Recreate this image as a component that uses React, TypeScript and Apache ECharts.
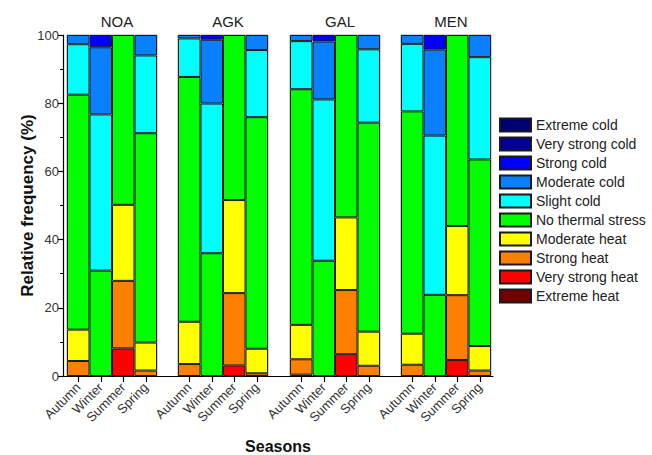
import React, { useEffect, useRef } from "react";
import * as echarts from "echarts";

const stations = ["NOA", "AGK", "GAL", "MEN"];
const seasons = ["Autumn", "Winter", "Summer", "Spring"];
const yTicks = [0, 20, 40, 60, 80, 100];

// values ordered: NOA(Autumn,Winter,Summer,Spring), AGK(...), GAL(...), MEN(...)
const extremeHeat = [0, 0, 0, 0, 0, 0, 0, 0, 0, 0, 0, 0, 0, 0, 0, 0];
const veryStrongHeat = [0, 0, 8.1, 0, 0, 0, 3.1, 0, 0.4, 0, 6.4, 0, 0, 0, 4.7, 0];
const strongHeat = [4.4, 0, 19.8, 1.6, 3.5, 0, 21.2, 0.8, 4.5, 0, 18.8, 3.0, 3.3, 0, 19.0, 1.6];
const moderateHeat = [9.2, 0, 22.3, 8.2, 12.4, 0, 27.3, 7.2, 10.1, 0, 21.3, 10.0, 9.1, 0, 20.3, 7.2];
const noThermalStress = [68.9, 30.9, 49.8, 61.4, 71.8, 36.0, 48.4, 67.9, 69.1, 33.8, 53.5, 61.3, 65.2, 23.8, 56.0, 54.7];
const slightCold = [14.8, 45.8, 0, 22.8, 11.3, 43.9, 0, 19.7, 14.1, 47.3, 0, 21.5, 19.8, 46.7, 0, 30.0];
const moderateCold = [2.7, 19.7, 0, 6.0, 1.0, 18.7, 0, 4.4, 1.8, 17.0, 0, 4.2, 2.6, 25.2, 0, 6.5];
const strongCold = [0, 3.6, 0, 0, 0, 1.4, 0, 0, 0, 1.9, 0, 0, 0, 4.3, 0, 0];
const veryStrongCold = [0, 0, 0, 0, 0, 0, 0, 0, 0, 0, 0, 0, 0, 0, 0, 0];
const extremeCold = [0, 0, 0, 0, 0, 0, 0, 0, 0, 0, 0, 0, 0, 0, 0, 0];

// stacking order bottom -> top
const classes = [
  { name: "Extreme heat", color: "#730000", values: extremeHeat },
  { name: "Very strong heat", color: "#ff0000", values: veryStrongHeat },
  { name: "Strong heat", color: "#ff8000", values: strongHeat },
  { name: "Moderate heat", color: "#ffff00", values: moderateHeat },
  { name: "No thermal stress", color: "#00ff00", values: noThermalStress },
  { name: "Slight cold", color: "#00ffff", values: slightCold },
  { name: "Moderate cold", color: "#0a80ff", values: moderateCold },
  { name: "Strong cold", color: "#0000ff", values: strongCold },
  { name: "Very strong cold", color: "#000099", values: veryStrongCold },
  { name: "Extreme cold", color: "#000070", values: extremeCold },
];

const FONT = 'Arial, "Liberation Sans", sans-serif';

export default function App() {
  const ref = useRef<HTMLDivElement>(null);
  useEffect(() => {
    if (!ref.current) return;
    const chart = echarts.init(ref.current, null, { renderer: "svg" });
    const panelLefts = [67, 178, 290, 401];
    const panelWidth = 90;
    const top = 35;
    const bottom = 79;

    const grids: any[] = [
      { left: 63, right: 159, top, bottom, show: false, outerBoundsMode: "none", containLabel: false },
      ...panelLefts.map((l) => ({
        left: l,
        width: panelWidth,
        top,
        bottom,
        show: true,
        borderColor: "#a0a0a0",
        borderWidth: 1,
        backgroundColor: "transparent",
        outerBoundsMode: "none",
        containLabel: false,
      })),
    ];

    const xAxes: any[] = [
      {
        gridIndex: 0,
        type: "value",
        min: 0,
        max: 1,
        z: 10,
        axisLine: { show: true, onZero: false, lineStyle: { color: "#000", width: 1.2 } },
        axisTick: { show: false },
        axisLabel: { show: false },
        splitLine: { show: false },
        name: "Seasons",
        nameLocation: "middle",
        nameGap: 62,
        nameMoveOverlap: false,
        nameTextStyle: { fontFamily: FONT, fontSize: 16, fontWeight: "bold", color: "#111" },
      },
      ...stations.map((_, i) => ({
        gridIndex: i + 1,
        type: "category",
        data: seasons,
        axisLine: { show: false },
        axisTick: { show: true, alignWithLabel: true, length: 6, lineStyle: { color: "#000", width: 1.2 } },
        axisLabel: { interval: 0, rotate: 45, fontFamily: FONT, fontSize: 13, color: "#333", margin: 9 },
        splitLine: { show: false },
      })),
    ];

    const yAxes: any[] = [
      {
        gridIndex: 0,
        type: "value",
        min: 0,
        max: 100,
        interval: 20,
        axisLine: { show: true, lineStyle: { color: "#000", width: 1.2 } },
        axisTick: { show: true, length: 5, lineStyle: { color: "#000", width: 1.2 } },
        minorTick: { show: true, splitNumber: 2, length: 3, lineStyle: { color: "#000", width: 1 } },
        axisLabel: {
          fontFamily: FONT,
          fontSize: 13,
          color: "#333",
          margin: 4,
          formatter: (v: number) => (yTicks.includes(v) ? String(v) : ""),
        },
        splitLine: { show: false },
        name: "Relative frequency (%)",
        nameLocation: "middle",
        nameGap: 27,
        nameMoveOverlap: false,
        nameTextStyle: { fontFamily: FONT, fontSize: 17, fontWeight: "bold", color: "#111" },
      },
      ...stations.map((_, i) => ({
        gridIndex: i + 1,
        type: "value",
        min: 0,
        max: 100,
        show: false,
        splitLine: { show: false },
      })),
    ];

    const series: any[] = [];
    stations.forEach((_, p) => {
      classes.forEach((c) => {
        series.push({
          type: "bar",
          name: c.name,
          xAxisIndex: p + 1,
          yAxisIndex: p + 1,
          stack: "s" + p,
          barCategoryGap: "0%",
          data: c.values.slice(p * 4, p * 4 + 4).map((v) => (v === 0 ? "-" : v)),
          itemStyle: { color: c.color, borderColor: "#1a1a1a", borderWidth: 1 },
          emphasis: { disabled: true },
        });
      });
    });

    const titles = stations.map((s, i) => ({
      text: s,
      left: panelLefts[i] + panelWidth / 2,
      top: 9,
      textAlign: "center",
      textStyle: { fontFamily: FONT, fontSize: 15, fontWeight: "normal", color: "#222" },
    }));

    chart.setOption({
      animation: false,
      backgroundColor: "#fff",
      title: titles,
      grid: grids,
      xAxis: xAxes,
      yAxis: yAxes,
      legend: {
        orient: "vertical",
        left: 494,
        top: 112,
        icon: "rect",
        itemWidth: 31,
        itemHeight: 13,
        itemGap: 3,
        selectedMode: false,
        data: classes.map((c) => c.name).reverse(),
        textStyle: { fontFamily: FONT, fontSize: 14, color: "#222", lineHeight: 16 },
      },
      series,
    });
    return () => chart.dispose();
  }, []);
  return (
    <div
      ref={ref}
      style={{ position: "fixed", left: 0, top: 0, width: 652, height: 455, background: "#fff" }}
    />
  );
}
